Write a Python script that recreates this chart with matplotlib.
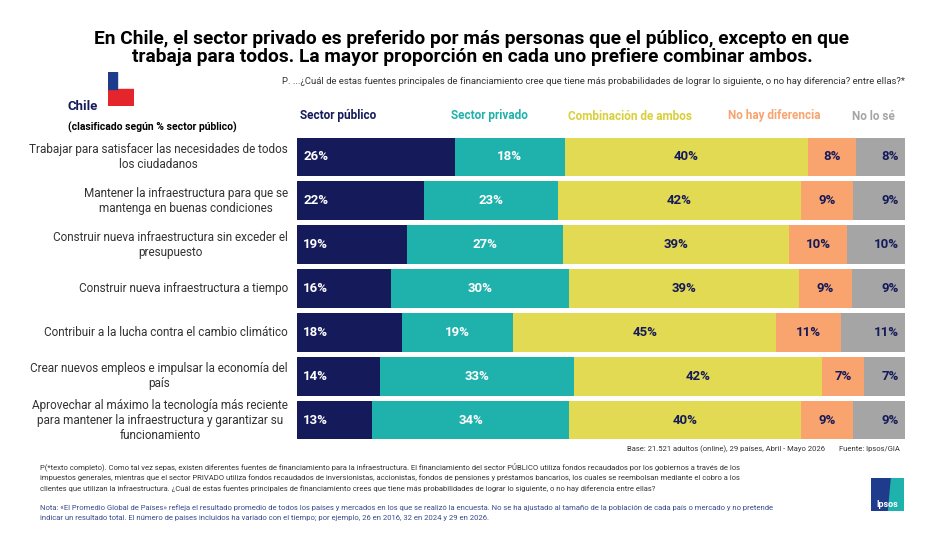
import matplotlib
matplotlib.use("Agg")
import matplotlib.pyplot as plt
import numpy as np

plt.rcParams['font.family'] = ['Roboto', 'DejaVu Sans']

categories = [
    "Trabajar para satisfacer las necesidades de todos\nlos ciudadanos",
    "Mantener la infraestructura para que se\nmantenga en buenas condiciones",
    "Construir nueva infraestructura sin exceder el\npresupuesto",
    "Construir nueva infraestructura a tiempo",
    "Contribuir a la lucha contra el cambio climático",
    "Crear nuevos empleos e impulsar la economía del\npaís",
    "Aprovechar al máximo la tecnología más reciente\npara mantener la infraestructura y garantizar su\nfuncionamiento",
]
series_names = ["Sector público", "Sector privado", "Combinación de ambos", "No hay diferencia", "No lo sé"]
publico = [26, 22, 19, 16, 18, 14, 13]
privado = [18, 23, 27, 30, 19, 33, 34]
combinacion = [40, 42, 39, 39, 45, 42, 40]
no_diferencia = [8, 9, 10, 9, 11, 7, 9]
no_se = [8, 9, 10, 9, 11, 7, 9]

colors = ["#141A5A", "#1FB1AC", "#E2DA52", "#F9A46F", "#A5A5A5"]
text_colors = ["white", "white", "#141A5A", "#141A5A", "#141A5A"]
header_colors = ["#141A5A", "#1FB1AC", "#D9CF3A", "#F9A46F", "#A5A5A5"]

data = np.array([publico, privado, combinacion, no_diferencia, no_se], dtype=float)
norm = data / data.sum(axis=0) * 100

fig = plt.figure(figsize=(9.44, 5.33), dpi=100)
ax = fig.add_axes([297/944, 1-442/533, 608/944, (442-135)/533])
y = np.arange(len(categories))
left = np.zeros(len(categories))
for i in range(5):
    ax.barh(y, norm[i], left=left, height=0.88, color=colors[i], edgecolor='none')
    for j in range(len(categories)):
        if i == 0:
            xx, ha = left[j] + 1.0, 'left'
        elif i == 4:
            xx, ha = left[j] + norm[i][j] - 1.0, 'right'
        else:
            xx, ha = left[j] + norm[i][j]/2, 'center'
        ax.text(xx, y[j], f"{int(data[i][j])}%", ha=ha, va='center',
                color=text_colors[i], fontsize=9.5, fontweight='bold')
    left += norm[i]
ax.set_xlim(0, 100)
ax.set_ylim(len(categories)-0.5, -0.5)
ax.axis('off')
for j, c in enumerate(categories):
    ax.text(-1.5, y[j], c, ha='right', va='center', fontsize=8.5, color='#333333',
            multialignment='center', transform=ax.transData)

hx = [(297+379)/2, (450+528)/2, (570+690)/2, (728+820)/2, (853+894)/2]
for i, n in enumerate(series_names):
    fig.text(hx[i]/944, 1-116/533, n, ha='center', va='center', fontsize=8.5,
             fontweight='bold', color=header_colors[i])

fig.text(0.5, 1-48/533, "En Chile, el sector privado es preferido por más personas que el público, excepto en que\ntrabaja para todos. La mayor proporción en cada uno prefiere combinar ambos.",
         ha='center', va='center', fontsize=13.8, fontweight='bold', color='black', linespacing=1.0)
fig.text(905/944, 1-81/533, "P. ...¿Cuál de estas fuentes principales de financiamiento cree que tiene más probabilidades de lograr lo siguiente, o no hay diferencia? entre ellas?*",
         ha='right', va='center', fontsize=6.8, color='#333333')
fig.text(68/944, 1-106/533, "Chile", ha='left', va='center', fontsize=9.5, fontweight='bold', color='#141A5A')
fig.text(68/944, 1-127/533, "(clasificado según % sector público)", ha='left', va='center', fontsize=7.5, fontweight='bold', color='black')
fa = fig.add_axes([108/944, 1-106/533, 26/944, 34/533])
fa.add_patch(plt.Rectangle((0, 0.5), 1, 0.5, color='white'))
fa.add_patch(plt.Rectangle((0, 0), 1, 0.5, color='#E4252B'))
fa.add_patch(plt.Rectangle((0, 0.5), 0.35, 0.5, color='#1F3C8C'))
fa.set_xlim(0, 1); fa.set_ylim(0, 1); fa.axis('off')

fig.text(825/944, 1-449/533, "Base: 21.521 adultos (online), 29 países, Abril - Mayo 2026", ha='right', va='center', fontsize=5.5, color='#333333')
fig.text(900/944, 1-449/533, "Fuente: Ipsos/GIA", ha='right', va='center', fontsize=5.5, color='#333333')
fig.text(40/944, 1-477/533,
         "P(*texto completo). Como tal vez sepas, existen diferentes fuentes de financiamiento para la infraestructura. El financiamiento del sector PÚBLICO utiliza fondos recaudados por los gobiernos a través de los\n"
         "impuestos generales, mientras que el sector PRIVADO utiliza fondos recaudados de inversionistas, accionistas, fondos de pensiones y préstamos bancarios, los cuales se reembolsan mediante el cobro a los\n"
         "clientes que utilizan la infraestructura. ¿Cuál de estas fuentes principales de financiamiento crees que tiene más probabilidades de lograr lo siguiente, o no hay diferencia entre ellas?",
         ha='left', va='center', fontsize=5.5, color='#333333', linespacing=1.6)
fig.text(40/944, 1-513/533,
         "Nota: «El Promedio Global de Países» refleja el resultado promedio de todos los países y mercados en los que se realizó la encuesta. No se ha ajustado al tamaño de la población de cada país o mercado y no pretende\n"
         "indicar un resultado total. El número de países incluidos ha variado con el tiempo; por ejemplo, 26 en 2016, 32 en 2024 y 29 en 2026.",
         ha='left', va='center', fontsize=5.5, color='#3A4A8A', linespacing=1.8)
la = fig.add_axes([871/944, 1-511/533, 33/944, 33/533])
la.add_patch(plt.Rectangle((0, 0), 1, 1, color='#1F3C8C'))
la.add_patch(plt.Polygon([[0.5, 0], [1, 0], [1, 1], [0.6, 1]], color='#1FB1AC'))
la.text(0.5, 0.2, "Ipsos", ha='center', va='center', color='white', fontsize=6.5, fontweight='bold')
la.set_xlim(0, 1); la.set_ylim(0, 1); la.axis('off')

fig.savefig("out.png", dpi=100)
